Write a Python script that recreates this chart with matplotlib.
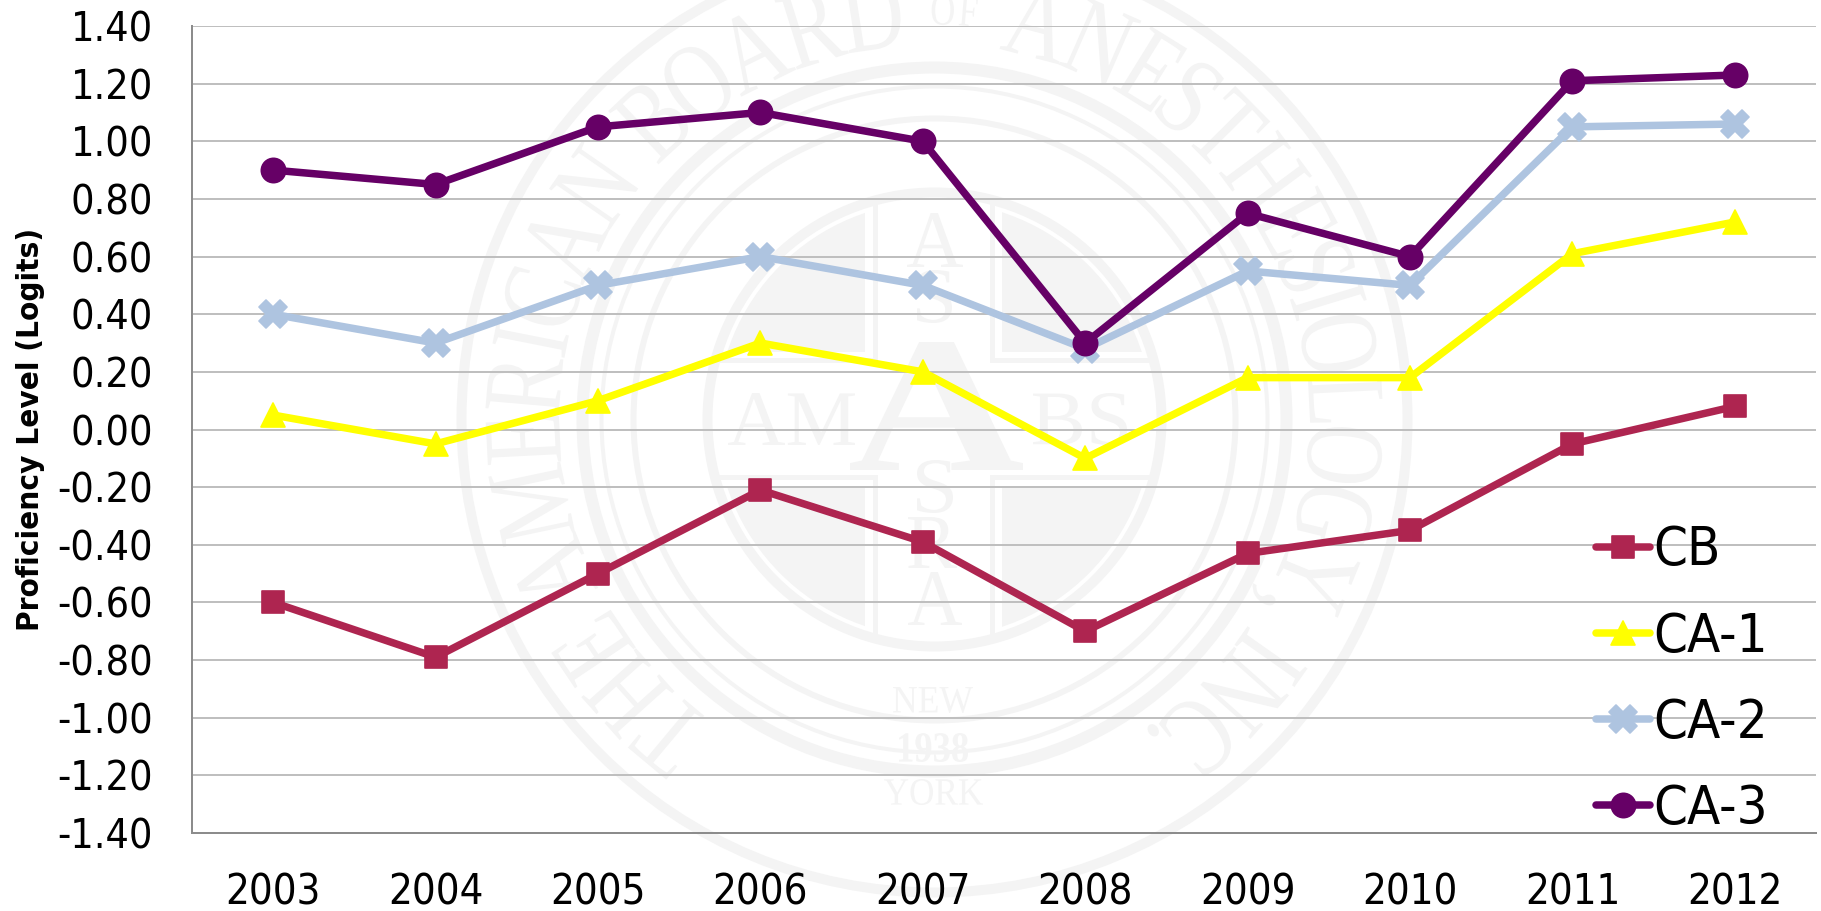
#!/usr/bin/env python3
import numpy as np
import matplotlib
matplotlib.use('Agg')
import matplotlib.pyplot as plt
from matplotlib.font_manager import FontProperties
from matplotlib.markers import MarkerStyle
from matplotlib.patches import Circle, PathPatch, Rectangle
from matplotlib.textpath import TextPath
from matplotlib.transforms import Affine2D

years = ['2003', '2004', '2005', '2006', '2007', '2008', '2009', '2010', '2011', '2012']
y_ticks = [1.4, 1.2, 1.0, 0.8, 0.6, 0.4, 0.2, 0.0, -0.2, -0.4, -0.6, -0.8, -1.0, -1.2, -1.4]

cb = [-0.60, -0.79, -0.50, -0.21, -0.39, -0.70, -0.43, -0.35, -0.05, 0.08]
ca1 = [0.05, -0.05, 0.10, 0.30, 0.20, -0.10, 0.18, 0.18, 0.61, 0.72]
ca2 = [0.40, 0.30, 0.50, 0.60, 0.50, 0.28, 0.55, 0.50, 1.05, 1.06]
ca3 = [0.90, 0.85, 1.05, 1.10, 1.00, 0.30, 0.75, 0.60, 1.21, 1.23]

W, H = 1821, 911
PX = 0.72  # points per pixel at dpi 100
SEAL = '#F4F4F4'
CX, CY = 934.5, 419.5

plt.rcParams['font.family'] = ['DejaVu Sans']
plt.rcParams['font.stretch'] = 'condensed'
serif = FontProperties(family='Liberation Serif')
serif_bold = FontProperties(family='Liberation Serif', weight='bold')


def stamp(ax, text, x0, y0, x1, y1, prop=serif):
    # text fitted into a pixel box on the background axes
    tp = TextPath((0, 0), text, size=100, prop=prop)
    b = tp.get_extents()
    tr = (Affine2D().translate(-b.x0, -b.y0)
          .scale((x1 - x0) / b.width, -(y1 - y0) / b.height)
          .translate(x0, y1))
    ax.add_patch(PathPatch(tr.transform_path(tp), fc=SEAL, ec='none'))


def ring_text(ax, parts, start, end):
    # letters set around the seal, clockwise from start to end (degrees from top)
    glyphs = []
    for text, size, r_in in parts:
        for ch in text:
            if ch == ' ':
                glyphs.append((None, 34, r_in))
                continue
            tp = TextPath((0, 0), ch, size=size, prop=serif)
            glyphs.append((tp, tp.get_extents().width + 8, r_in))
    total = sum(g[1] for g in glyphs)
    sweep = end - start
    pos = 0
    for tp, adv, r_in in glyphs:
        if tp is not None:
            b = tp.get_extents()
            sx = sweep * np.pi / 180 * 415 / total
            theta = start + sweep * (pos + adv / 2) / total
            tr = (Affine2D().translate(-(b.x0 + b.x1) / 2, 0).scale(sx, -1)
                  .translate(0, -r_in).rotate_deg(theta).translate(CX, CY))
            ax.add_patch(PathPatch(tr.transform_path(tp), fc=SEAL, ec='none'))
        pos += adv


def draw_seal(ax):
    for r, w in [(473, 10), (352, 12), (333, 4), (301, 6), (227, 10)]:
        ax.add_patch(Circle((CX, CY), r, fill=False, ec=SEAL, lw=w * PX))

    # quartered shield in the middle
    clip_fill = Circle((CX, CY), 218, transform=ax.transData)
    clip_line = Circle((CX, CY), 224, transform=ax.transData)
    for x0, x1 in [(680, 865), (1002, 1190)]:
        for y0, y1 in [(170, 352), (488, 670)]:
            q = Rectangle((x0, y0), x1 - x0, y1 - y0, fc=SEAL, ec='none')
            ax.add_patch(q)
            q.set_clip_path(clip_fill)
    bars = [(873, 170, 5, 193), (990, 170, 5, 193), (873, 475, 5, 195), (990, 475, 5, 195),
            (680, 358, 198, 5), (990, 358, 200, 5), (680, 475, 198, 5), (990, 475, 200, 5)]
    for x, y, w, h in bars:
        b = Rectangle((x, y), w, h, fc=SEAL, ec='none')
        ax.add_patch(b)
        b.set_clip_path(clip_line)

    stamp(ax, 'A', 850, 342, 1023, 470, serif_bold)
    stamp(ax, 'AM', 728, 393, 855, 445)
    stamp(ax, 'BS', 1033, 393, 1127, 445)
    stamp(ax, 'A', 907, 213, 963, 267)
    stamp(ax, 'S', 917, 270, 952, 323)
    stamp(ax, 'S', 917, 460, 953, 513)
    stamp(ax, 'R', 908, 517, 957, 568)
    stamp(ax, 'A', 908, 572, 962, 625)
    stamp(ax, 'NEW', 893, 687, 973, 713)
    stamp(ax, '1938', 899, 733, 968, 762, serif_bold)
    stamp(ax, 'YORK', 884, 779, 983, 805)

    ring_text(ax, [('THE AMERICAN BOARD ', 112, 375), ('OF', 45, 395),
                   (' ANESTHESIOLOGY, INC.', 112, 375)], 216, 506)


def create_chart():
    fig = plt.figure(figsize=(W / 100, H / 100), dpi=100, facecolor='white')

    bg = fig.add_axes([0, 0, 1, 1], zorder=0)
    bg.set_xlim(0, W)
    bg.set_ylim(H, 0)
    bg.axis('off')
    draw_seal(bg)

    ax = fig.add_axes([192 / W, 1 - 833 / H, 1624 / W, 807 / H], zorder=1)
    ax.patch.set_alpha(0)

    x = np.arange(len(years))
    styles = [
        (cb, 'CB', '#AE2550', 's', 16.5),
        (ca1, 'CA-1', '#FFFF00', '^', 17.5),
        (ca2, 'CA-2', '#AEC4E0', 'X', 20),
        (ca3, 'CA-3', '#660066', 'o', 17.5),
    ]
    for values, label, color, marker, ms in styles:
        ax.plot(x, values, color=color, lw=7.5 * PX, label=label, solid_capstyle='round',
                solid_joinstyle='round', marker=MarkerStyle(marker, joinstyle='round'),
                ms=ms, mfc=color, mec=color, mew=1.2, zorder=3, clip_on=False)

    ax.set_xlim(-0.5, 9.5)
    ax.set_ylim(-1.4, 1.4)
    ax.set_xticks(x)
    ax.set_xticklabels(years)
    ax.set_yticks(y_ticks)
    ax.set_yticklabels([f'{v:.2f}' for v in y_ticks])
    ax.tick_params(axis='x', length=0, pad=28, labelsize=30)
    ax.tick_params(axis='y', length=0, pad=28, labelsize=29.5)
    ax.grid(True, axis='y', color='#BFBFBF', lw=2 * PX, zorder=1)
    ax.set_axisbelow(True)
    for side in ['top', 'right']:
        ax.spines[side].set_visible(False)
    for side in ['left', 'bottom']:
        ax.spines[side].set_color('#8C8C8C')
        ax.spines[side].set_linewidth(2 * PX)

    ax.set_ylabel('Proficiency Level (Logits)', fontsize=22.5, fontweight='bold')
    ax.yaxis.set_label_coords((45 - 192) / 1624, 0.5)

    ax.legend(loc='lower right', bbox_to_anchor=(0.9735, -0.009), frameon=False, fontsize=39,
              handlelength=1.0, handletextpad=0.06, labelspacing=0.63, borderaxespad=0,
              borderpad=0.1, numpoints=1)

    fig.savefig('out.png', dpi=100)
    print('done')


if __name__ == '__main__':
    create_chart()
